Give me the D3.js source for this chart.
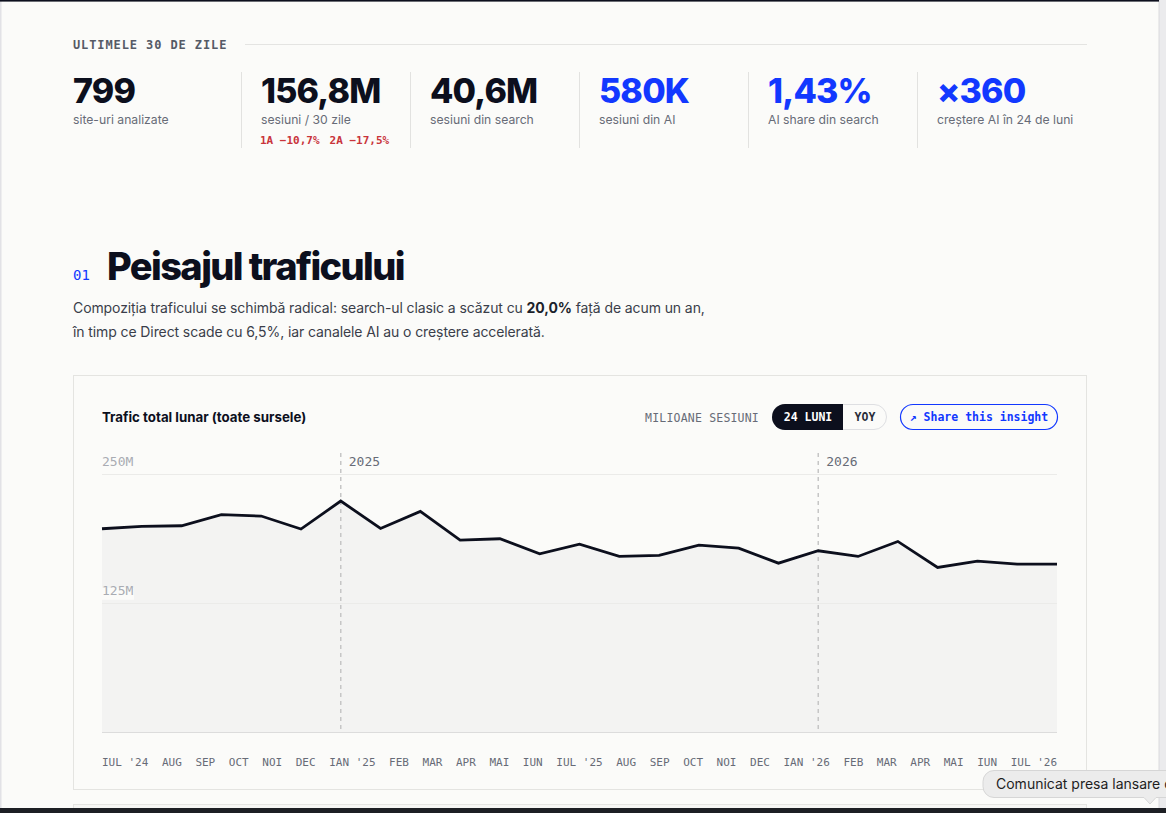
<!DOCTYPE html>
<html>
<head>
<meta charset="utf-8">
<script src="https://cdn.jsdelivr.net/npm/d3@7"></script>
<style>
  html, body { margin: 0; padding: 0; background: #fbfbf9; overflow: hidden; }
  svg { display: block; }
  .sans { font-family: Inter, "Noto Sans", sans-serif; }
  .mono { font-family: "DejaVu Sans Mono", "Liberation Mono", monospace; }
</style>
</head>
<body>
<div id="page"></div>
<script>
// stats row
var statValues = ["799", "156,8M", "40,6M", "580K", "1,43%", "\u00d7360"];
var statLabels = ["site-uri analizate", "sesiuni / 30 zile", "sesiuni din search", "sesiuni din AI", "AI share din search", "cre\u0219tere AI \u00een 24 de luni"];
var statBlue = [false, false, false, true, true, true];
var deltas = ["1A \u221210,7%", "2A \u221217,5%"];

// chart data (milioane sesiuni / luna)
var months = ["IUL '24", "AUG", "SEP", "OCT", "NOI", "DEC", "IAN '25", "FEB", "MAR", "APR", "MAI", "IUN",
              "IUL '25", "AUG", "SEP", "OCT", "NOI", "DEC", "IAN '26", "FEB", "MAR", "APR", "MAI", "IUN", "IUL '26"];
var traffic = [196.7, 199, 199.6, 210.3, 209, 196.4, 223.5, 197, 213.5, 185.7, 187, 172.5,
               181.8, 170, 171, 180.8, 178, 163.4, 175.4, 169.9, 184.4, 159.2, 165.4, 162.5, 162.5];
var yTicks = [250, 125];
var yearLabels = ["2025", "2026"];
var yearStart = [6, 18];

var W = 1166, H = 813;
var ink = "#0c0f1d", blue = "#1238ff", muted = "#676b77";

var svg = d3.select("#page").append("svg")
    .attr("width", W).attr("height", H);

// page frame
svg.append("rect").attr("x", 0).attr("y", 0).attr("width", W).attr("height", H).attr("fill", "#fbfbf9");
svg.append("rect").attr("x", 0).attr("y", 0).attr("width", 1.5).attr("height", H).attr("fill", "#e2e2e6");

// ---- header row
svg.append("text").attr("class", "mono")
    .attr("x", 73).attr("y", 49)
    .attr("font-size", 12).attr("font-weight", 700).attr("letter-spacing", 0.9)
    .attr("fill", "#555a66").text("ULTIMELE 30 DE ZILE");
svg.append("line").attr("x1", 245).attr("x2", 1087).attr("y1", 44.5).attr("y2", 44.5)
    .attr("stroke", "#e4e4e2");

var colX = d3.scaleBand().domain(d3.range(statValues.length)).range([73, 1087]);

var stat = svg.selectAll("g.stat").data(statValues).enter().append("g")
    .attr("class", "stat")
    .attr("transform", function(d, i) { return "translate(" + colX(i) + ",0)"; });

stat.filter(function(d, i) { return i > 0; }).append("line")
    .attr("x1", -0.5).attr("x2", -0.5).attr("y1", 72).attr("y2", 148)
    .attr("stroke", "#e2e2e0");

stat.append("text").attr("class", "sans")
    .attr("x", function(d, i) { return i > 0 ? 19 : 0; }).attr("y", 103)
    .attr("font-size", 34).attr("font-weight", 800).attr("letter-spacing", -0.8)
    .attr("fill", function(d, i) { return statBlue[i] ? blue : ink; })
    .text(function(d) { return d; });

stat.append("text").attr("class", "sans")
    .attr("x", function(d, i) { return i > 0 ? 19 : 0; }).attr("y", 123.5)
    .attr("font-size", 12.2).attr("fill", muted)
    .text(function(d, i) { return statLabels[i]; });

var dl = svg.append("text").attr("class", "mono")
    .attr("x", colX(1) + 18).attr("y", 143.5)
    .attr("font-size", 11).attr("font-weight", 700).attr("fill", "#c9343b");
dl.append("tspan").text(deltas[0]);
dl.append("tspan").attr("dx", 10).text(deltas[1]);

// ---- section heading
svg.append("text").attr("class", "mono").attr("x", 73).attr("y", 279.5)
    .attr("font-size", 14).attr("fill", blue).text("01");
svg.append("text").attr("class", "sans").attr("x", 107).attr("y", 280)
    .attr("font-size", 38).attr("font-weight", 800).attr("letter-spacing", -1.6)
    .attr("fill", ink).text("Peisajul traficului");

var p1 = svg.append("text").attr("class", "sans").attr("x", 73).attr("y", 313)
    .attr("font-size", 14).attr("letter-spacing", -0.1).attr("fill", "#3a3e4a");
p1.append("tspan").text("Compozi\u021bia traficului se schimb\u0103 radical: search-ul clasic a sc\u0103zut cu ");
p1.append("tspan").attr("font-weight", 700).attr("fill", "#1c1f2b").text("20,0%");
p1.append("tspan").text(" fa\u021b\u0103 de acum un an,");
svg.append("text").attr("class", "sans").attr("x", 73).attr("y", 337)
    .attr("font-size", 14).attr("letter-spacing", -0.1).attr("fill", "#3a3e4a")
    .text("\u00een timp ce Direct scade cu 6,5%, iar canalele AI au o cre\u0219tere accelerat\u0103.");

// ---- card
svg.append("rect").attr("x", 73.5).attr("y", 375.5).attr("width", 1013).attr("height", 414)
    .attr("fill", "#fbfbf9").attr("stroke", "#e4e4e1");

svg.append("text").attr("class", "sans").attr("x", 102).attr("y", 422)
    .attr("font-size", 13.3).attr("font-weight", 700).attr("fill", ink)
    .text("Trafic total lunar (toate sursele)");

svg.append("text").attr("class", "mono").attr("x", 759).attr("y", 421.5)
    .attr("text-anchor", "end").attr("font-size", 11.5).attr("letter-spacing", 0.2)
    .attr("fill", muted).text("MILIOANE SESIUNI");

// toggle pill
svg.append("rect").attr("x", 772.5).attr("y", 404.5).attr("width", 114).attr("height", 25).attr("rx", 12.5)
    .attr("fill", "#fbfbf9").attr("stroke", "#dedfe2");
svg.append("path")
    .attr("d", "M785,404 H843 V430 H785 A13,13 0 0 1 785,404 Z")
    .attr("fill", ink);
svg.append("text").attr("class", "mono").attr("x", 808).attr("y", 421)
    .attr("text-anchor", "middle").attr("font-size", 11.5).attr("font-weight", 700)
    .attr("fill", "#ffffff").text("24 LUNI");
svg.append("text").attr("class", "mono").attr("x", 865).attr("y", 421)
    .attr("text-anchor", "middle").attr("font-size", 11.5).attr("font-weight", 700)
    .attr("fill", "#2a2e3a").text("YOY");

// share button
svg.append("rect").attr("x", 900.5).attr("y", 404.5).attr("width", 157).attr("height", 25).attr("rx", 12.5)
    .attr("fill", "#fbfbf9").attr("stroke", blue).attr("stroke-width", 1.2);
svg.append("text").attr("class", "mono").attr("x", 979).attr("y", 421)
    .attr("text-anchor", "middle").attr("font-size", 11.5).attr("font-weight", 700)
    .attr("fill", blue).text("\u2197 Share this insight");

// ---- chart
var x = d3.scalePoint().domain(d3.range(months.length)).range([102, 1057]);
var y = d3.scaleLinear().domain([0, 270]).range([732, 453]);

var plot = svg.append("g");

plot.append("path").datum(traffic)
    .attr("fill", "#f3f3f2")
    .attr("d", d3.area().x(function(d, i) { return x(i); }).y0(y(0)).y1(function(d) { return y(d); }));

plot.selectAll("line.grid").data(yTicks).enter().append("line")
    .attr("class", "grid")
    .attr("x1", 102).attr("x2", 1057)
    .attr("y1", function(d) { return Math.round(y(d)) + 0.5; })
    .attr("y2", function(d) { return Math.round(y(d)) + 0.5; })
    .attr("stroke", "#ebebe9");

plot.append("line").attr("x1", 102).attr("x2", 1057)
    .attr("y1", y(0) + 0.5).attr("y2", y(0) + 0.5).attr("stroke", "#dcdcdc");

// year separators
plot.selectAll("line.year").data(yearStart).enter().append("line")
    .attr("class", "year")
    .attr("x1", function(d) { return x(d); }).attr("x2", function(d) { return x(d); })
    .attr("y1", y(270)).attr("y2", y(0))
    .attr("stroke", "#c6c6c6").attr("stroke-width", 1.5).attr("stroke-dasharray", "4,4");

plot.selectAll("text.year").data(yearStart).enter().append("text")
    .attr("class", "mono year")
    .attr("x", function(d) { return x(d) + 8; }).attr("y", 466)
    .attr("font-size", 13).attr("fill", muted)
    .text(function(d, i) { return yearLabels[i]; });

// y tick labels
var yl = plot.selectAll("g.ylab").data(yTicks).enter().append("g").attr("class", "ylab");
yl.filter(function(d) { return d < 250; }).append("rect")
    .attr("x", 102).attr("y", function(d) { return y(d) - 15; })
    .attr("width", 32).attr("height", 12).attr("fill", "#fbfbf9");
yl.append("text").attr("class", "mono")
    .attr("x", 102).attr("y", function(d) { return y(d) - 8; })
    .attr("font-size", 13).attr("fill", "#a9acb3")
    .text(function(d) { return d + "M"; });

plot.append("path").datum(traffic)
    .attr("fill", "none").attr("stroke", ink).attr("stroke-width", 2.8)
    .attr("d", d3.line().x(function(d, i) { return x(i); }).y(function(d) { return y(d); }));

// x labels: spread across the plot width (space-between)
var xl = plot.selectAll("text.xlab").data(months).enter().append("text")
    .attr("class", "mono xlab").attr("y", 766)
    .attr("font-size", 11).attr("fill", muted)
    .text(function(d) { return d; });
var widths = [];
xl.each(function() { widths.push(this.getComputedTextLength()); });
var gap = (1057 - 102 - d3.sum(widths)) / (months.length - 1);
var cx = 102;
xl.attr("x", function(d, i) { var v = cx; cx += widths[i] + gap; return v; });

// ---- below the card
svg.append("rect").attr("x", 73.5).attr("y", 804.5).attr("width", 1013).attr("height", 20)
    .attr("fill", "#f6f6f4").attr("stroke", "#e4e4e1");
svg.append("rect").attr("x", 0).attr("y", 808).attr("width", W).attr("height", 5).attr("fill", "#1d1f24");

// scrollbar strip + top edge
svg.append("rect").attr("x", 1159).attr("y", 0).attr("width", 7).attr("height", 808).attr("fill", "#ebebed");
svg.append("line").attr("x1", 1159).attr("x2", 1159).attr("y1", 0).attr("y2", 808).attr("stroke", "#dadadd");
svg.append("rect").attr("x", 0).attr("y", 0).attr("width", 1159).attr("height", 1.6).attr("fill", ink);

// tooltip (runs past the right edge, as in the screenshot)
svg.append("path")
    .attr("d", "M994,770.5 H1170 V797.5 H1156 L1150,804 L1144,797.5 H994 A11,11 0 0 1 983,786.5 V781.5 A11,11 0 0 1 994,770.5 Z")
    .attr("fill", "#ececec").attr("stroke", "#d6d6d6");
svg.append("text").attr("class", "sans").attr("x", 996).attr("y", 789)
    .attr("font-size", 14).attr("fill", "#1e1e1e").text("Comunicat presa lansare d");
</script>
</body>
</html>
